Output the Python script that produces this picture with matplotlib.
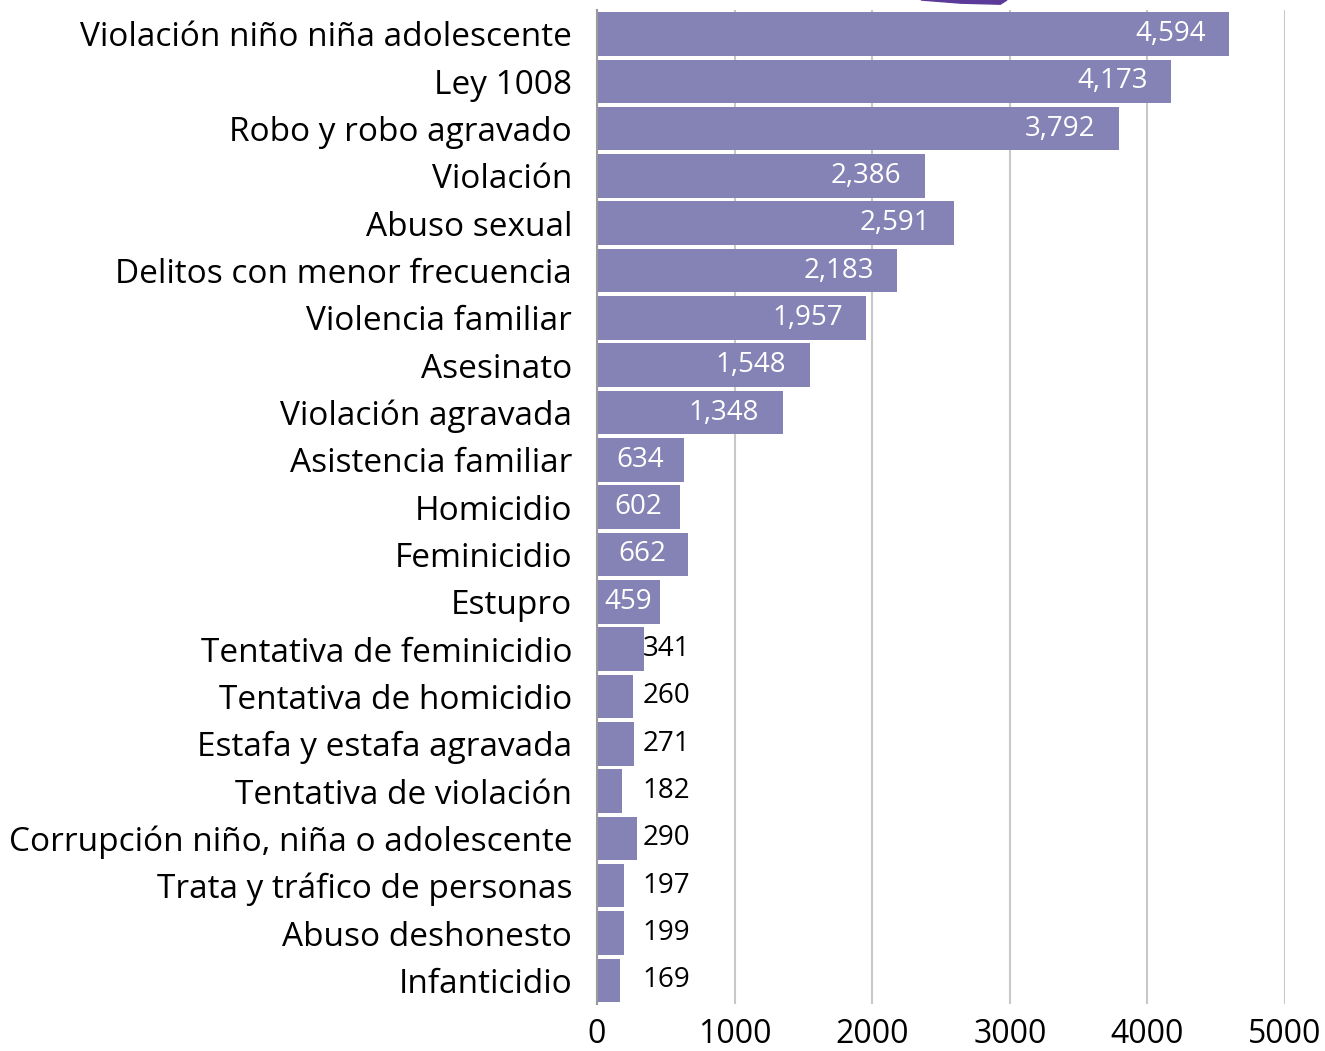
import matplotlib.pyplot as plt
from matplotlib.patches import Polygon

# -----------------------------
# Data
# -----------------------------
categories = [
    "Violación niño niña adolescente",
    "Ley 1008",
    "Robo y robo agravado",
    "Violación",
    "Abuso sexual",
    "Delitos con menor frecuencia",
    "Violencia familiar",
    "Asesinato",
    "Violación agravada",
    "Asistencia familiar",
    "Homicidio",
    "Feminicidio",
    "Estupro",
    "Tentativa de feminicidio",
    "Tentativa de homicidio",
    "Estafa y estafa agravada",
    "Tentativa de violación",
    "Corrupción niño, niña o adolescente",
    "Trata y tráfico de personas",
    "Abuso deshonesto",
    "Infanticidio",
]
values = [4594, 4173, 3792, 2386, 2591, 2183, 1957, 1548, 1348, 634, 602,
          662, 459, 341, 260, 271, 182, 290, 197, 199, 169]
xTicks = [0, 1000, 2000, 3000, 4000, 5000]

barColor = "#8582b5"
plt.rcParams["font.family"] = ["Open Sans", "DejaVu Sans"]

fig = plt.figure(figsize=(13.25, 10.51), dpi=100)
ax = fig.add_axes([0.4506, 0.0447, 0.5192, 0.9455])

positions = list(range(len(categories)))
ax.barh(positions, values, height=0.92, color=barColor, zorder=2)

for pos, val in zip(positions, values):
    label = f"{val:,}"
    if (val >= 1000):
        ax.annotate(label, (val, pos), xytext=(-17, 0), textcoords="offset points",
                    ha="right", va="center", color="white", fontsize=20)
    elif (val >= 450):
        ax.text(val / 2, pos, label, ha="center", va="center", color="white", fontsize=20)
    else:
        ax.text(332, pos, label, ha="left", va="center", color="black", fontsize=20)

ax.set_xlim(0, 5000)
ax.set_ylim(len(categories) - 0.5, -0.5)
ax.set_xticks(xTicks)
ax.set_xticklabels([str(t) for t in xTicks], fontsize=23)
ax.set_yticks(positions)
ax.set_yticklabels(categories, fontsize=24)
ax.tick_params(axis="y", length=0, pad=18)
ax.tick_params(axis="x", length=0, pad=10)

ax.grid(True, axis="x", color="#c8c8c8", lw=1.5, zorder=0)
for side in ["top", "right", "bottom"]:
    ax.spines[side].set_visible(False)
ax.spines["left"].set_color("#9a9a9a")
ax.spines["left"].set_linewidth(1.5)

# decorative cut-off stroke at the top edge
fig.patches.append(Polygon([[0.695, 1.0], [0.76, 1.0], [0.755, 0.996], [0.725, 0.997]],
                           closed=True, transform=fig.transFigure, color="#5b3a99"))

fig.savefig("out.png", dpi=100)
